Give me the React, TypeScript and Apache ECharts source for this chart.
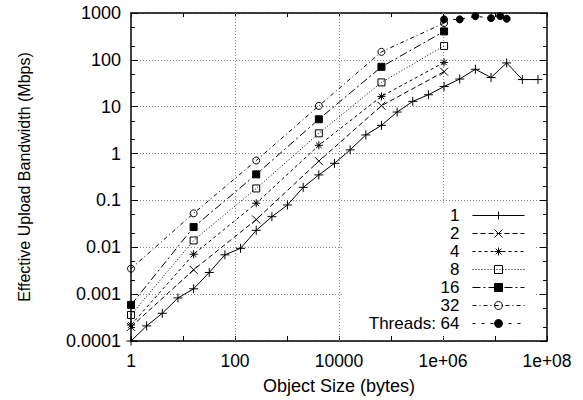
import React, { useEffect, useRef } from "react";
import * as echarts from "echarts";

// ---- data ----
const sizesThread1 = [
  1, 2, 4, 8, 16, 32, 64, 128, 256, 512, 1024, 2048, 4096, 8192, 16384, 32768,
  65536, 131072, 262144, 524288, 1048576, 2097152, 4194304, 8388608, 16777216,
  33554432, 67108864,
];
const bwThread1 = [
  0.0001, 0.00021, 0.00039, 0.00083, 0.0013, 0.0029, 0.0069, 0.0095, 0.023,
  0.045, 0.08, 0.19, 0.35, 0.62, 1.2, 2.5, 4.0, 7.7, 13, 18, 27, 39, 63, 42, 86,
  38, 38,
];
const sizesMulti = [1, 16, 256, 4096, 65536, 1048576];
const bwThread2 = [0.0002, 0.0033, 0.039, 0.69, 10.5, 56];
const bwThread4 = [0.00022, 0.0071, 0.087, 1.5, 16.6, 88];
const bwThread8 = [0.00036, 0.014, 0.18, 2.7, 33, 198];
const bwThread16 = [0.00059, 0.027, 0.36, 5.4, 71, 405];
const bwThread32 = [0.0035, 0.053, 0.71, 10.4, 148, 610];
const sizesThread64 = [1048576, 2097152, 4194304, 8388608, 12582912, 16777216];
const bwThread64 = [730, 730, 855, 776, 860, 753];

const seriesNames = ["1", "2", "4", "8", "16", "32", "Threads: 64"];
const xTickLabels = ["1", "100", "10000", "1e+06", "1e+08"];
const yTickLabels = ["0.0001", "0.001", "0.01", "0.1", "1", "10", "100", "1000"];
const xGridValues = [100, 10000, 1000000];
const yMinorTickValues = [
  0.0002, 0.0005, 0.002, 0.005, 0.02, 0.05, 0.2, 0.5, 2, 5, 20, 50, 200, 500,
];

const X_MIN = 1;
const X_MAX = 100000000;
const MINOR_TICK_FACTOR = 1.19; // ~4px at this scale

const FONT = "'Liberation Sans', Arial, Helvetica, sans-serif";
const PLUS = "path://M0,5L10,5M5,0L5,10";
const CROSS = "path://M0,0L10,10M10,0L0,10";
const STAR = "path://M0,5L10,5M5,0L5,10M1.5,1.5L8.5,8.5M8.5,1.5L1.5,8.5";
const OPEN = { color: "rgba(0,0,0,0)", borderColor: "#000", borderWidth: 1 };
const FILLED = { color: "#000", borderColor: "#000", borderWidth: 1 };

const seriesDefs = [
  { xs: sizesThread1, ys: bwThread1, symbol: PLUS, size: 9, dash: "solid", item: OPEN },
  { xs: sizesMulti, ys: bwThread2, symbol: CROSS, size: 8, dash: [5, 3], item: OPEN },
  { xs: sizesMulti, ys: bwThread4, symbol: STAR, size: 8, dash: [3, 3], item: OPEN },
  { xs: sizesMulti, ys: bwThread8, symbol: "rect", size: 7, dash: [1, 2], item: OPEN },
  { xs: sizesMulti, ys: bwThread16, symbol: "rect", size: 7, dash: [8, 3, 2, 3], item: FILLED },
  { xs: sizesMulti, ys: bwThread32, symbol: "circle", size: 7, dash: [4, 3, 1, 3], item: OPEN },
  { xs: sizesThread64, ys: bwThread64, symbol: "circle", size: 7, dash: [3, 6], item: FILLED },
];

export default function App() {
  const ref = useRef<HTMLDivElement>(null);
  useEffect(() => {
    if (!ref.current) return;
    const chart = echarts.init(ref.current, null, { renderer: "svg" });
    const axisLine = { show: true, lineStyle: { color: "#000", width: 1.5 } };
    const series: any[] = seriesDefs.map((d, i) => ({
      name: seriesNames[i],
      type: "line",
      xAxisIndex: 0,
      yAxisIndex: 0,
      data: d.xs.map((x, k) => [x, d.ys[k]]),
      symbol: d.symbol,
      symbolSize: d.size,
      showSymbol: true,
      showAllSymbol: true,
      lineStyle: { color: "#000", width: 1, type: d.dash },
      itemStyle: d.item,
      emphasis: { disabled: true },
      z: 3,
    }));
    const tickStyle = { color: "#000", width: 1, type: "solid" };
    const minorTicks: any[] = [];
    yMinorTickValues.forEach((v) => {
      minorTicks.push([
        { coord: [X_MIN, v], lineStyle: tickStyle },
        { coord: [X_MIN * MINOR_TICK_FACTOR, v] },
      ]);
      minorTicks.push([
        { coord: [X_MAX / MINOR_TICK_FACTOR, v], lineStyle: tickStyle },
        { coord: [X_MAX, v] },
      ]);
    });
    series[0].markLine = {
      silent: true,
      symbol: ["none", "none"],
      label: { show: false },
      emphasis: { disabled: true },
      lineStyle: { color: "#888", width: 1, type: [1, 2] },
      data: [...xGridValues.map((v) => ({ xAxis: v })), ...minorTicks],
      z: 1,
    };
    chart.setOption({
      animation: false,
      textStyle: { fontFamily: FONT },
      grid: { left: 131, right: 36, top: 13, bottom: 57, containLabel: false },
      legend: {
        orient: "vertical",
        align: "right",
        right: 48,
        top: 205,
        itemWidth: 52,
        itemHeight: 10,
        itemGap: 1,
        padding: [2, 10, 3, 26],
        backgroundColor: "#fff",
        selectedMode: false,
        data: seriesNames.map((n, i) => ({
          name: n,
          lineStyle: { type: seriesDefs[i].dash, width: 1, color: "#000" },
        })),
        itemStyle: { borderWidth: 1 },
        textStyle: { fontSize: 17, color: "#000", fontFamily: FONT, padding: [0, 8, 0, 0] },
        z: 5,
      },
      xAxis: [
        {
          type: "log",
          logBase: 10,
          min: X_MIN,
          max: X_MAX,
          position: "bottom",
          axisLine,
          axisTick: { show: true, inside: true, length: 5, lineStyle: { color: "#000" } },
          axisLabel: {
            fontSize: 17.5,
            color: "#000",
            fontFamily: FONT,
            margin: 11,
            formatter: (v: number) => {
              const e = Math.round(Math.log10(v));
              return e % 2 === 0 ? xTickLabels[e / 2] : "";
            },
          },
          splitLine: { show: false },
          name: "Object Size (bytes)",
          nameLocation: "middle",
          nameGap: 36,
          nameTextStyle: { fontSize: 18, color: "#000", fontFamily: FONT },
        },
        {
          type: "log",
          logBase: 10,
          min: X_MIN,
          max: X_MAX,
          position: "top",
          axisLine,
          axisTick: { show: true, inside: true, length: 4, lineStyle: { color: "#000" } },
          axisLabel: { show: false },
          splitLine: { show: false },
        },
      ],
      yAxis: [
        {
          type: "log",
          logBase: 10,
          min: 0.0001,
          max: 1000,
          position: "left",
          axisLine,
          axisTick: { show: true, inside: true, length: 7, lineStyle: { color: "#000" } },
          axisLabel: {
            fontSize: 18,
            color: "#000",
            fontFamily: FONT,
            margin: 10,
            formatter: (v: number) => yTickLabels[Math.round(Math.log10(v)) + 4],
          },
          splitLine: { show: true, lineStyle: { color: "#888", width: 1, type: [1, 2] } },
          name: "Effective Upload Bandwidth (Mbps)",
          nameLocation: "middle",
          nameGap: 99,
          nameTextStyle: { fontSize: 16, color: "#000", fontFamily: FONT },
        },
        {
          type: "log",
          logBase: 10,
          min: 0.0001,
          max: 1000,
          position: "right",
          axisLine,
          axisTick: { show: true, inside: true, length: 7, lineStyle: { color: "#000" } },
          axisLabel: { show: false },
          splitLine: { show: false },
        },
      ],
      series,
    });
    return () => chart.dispose();
  }, []);
  return (
    <div
      ref={ref}
      style={{ position: "fixed", left: 0, top: 0, width: 583, height: 400, background: "#fff" }}
    />
  );
}
